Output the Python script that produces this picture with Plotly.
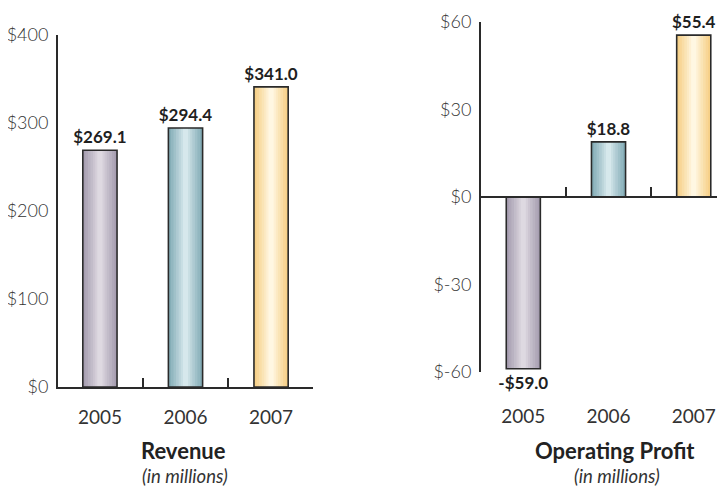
import plotly.graph_objects as go

years = ["2005", "2006", "2007"]
revenue = [269.1, 294.4, 341.0]
op_profit = [-59.0, 18.8, 55.4]

rev_ticks = [0, 100, 200, 300, 400]
rev_ticktext = ["$0", "$100", "$200", "$300", "$400"]
op_ticks = [-60, -30, 0, 30, 60]
op_ticktext = ["$-60", "$-30", "$0", "$30", "$60"]

# edge / highlight colours per year (cylinder shading)
edge_colors = ["#a79eb1", "#85adb7", "#f6d088"]
mid_colors = ["#ded9e1", "#d6e8ec", "#fff7e2"]

FONT = "Lato"
INK = "#2a2a2a"
W, H = 717, 481  # page body has an 8px margin


def px(x):
    return x / W


def py(y):
    return 1 - y / H


def fmt(v):
    return f"-${abs(v):.1f}" if v < 0 else f"${v:.1f}"


def mix(c1, c2, t):
    a = [int(c1[i:i + 2], 16) for i in (1, 3, 5)]
    b = [int(c2[i:i + 2], 16) for i in (1, 3, 5)]
    return "#" + "".join(f"{round(x + (y - x) * t):02x}" for x, y in zip(a, b))


def add_bars(fig, values, xa, ya):
    widths = [0.4, 0.34, 0.28, 0.22, 0.16, 0.11, 0.06]
    for i, w in enumerate(widths):
        t = i / (len(widths) - 1)
        fig.add_trace(go.Bar(
            x=years, y=values, width=w, xaxis=xa, yaxis=ya,
            marker=dict(color=[mix(e, m, t) for e, m in zip(edge_colors, mid_colors)], line_width=0),
            hoverinfo="skip", showlegend=False,
        ))
    # outline + value labels
    fig.add_trace(go.Bar(
        x=years, y=values, width=0.4, xaxis=xa, yaxis=ya,
        marker=dict(color="rgba(0,0,0,0)", line=dict(color=INK, width=1.6)),
        text=[fmt(v) for v in values], textposition="outside", cliponaxis=False,
        constraintext="none",
        textfont=dict(family=FONT, size=17, color="#1f1f1f", weight="bold"),
        showlegend=False,
    ))


fig = go.Figure()
add_bars(fig, revenue, "x", "y")
add_bars(fig, op_profit, "x2", "y2")

axis_font = dict(family=FONT, size=19, color="#333333")
ytick_font = dict(family=FONT, size=18, color="#333333", weight=300)

fig.update_layout(
    width=W, height=H,
    margin=dict(l=0, r=0, t=0, b=0, autoexpand=False),
    paper_bgcolor="white", plot_bgcolor="white",
    barmode="overlay",
    xaxis=dict(
        domain=[px(50), px(305)], range=[-0.49, 2.49], anchor="y", automargin=False,
        showline=True, linecolor=INK, linewidth=2,
        ticks="inside", tickson="boundaries", ticklen=9, tickwidth=2, tickcolor=INK,
        showgrid=False, zeroline=False, tickfont=axis_font, ticklabelstandoff=12,
    ),
    yaxis=dict(
        domain=[py(379), py(27)], range=[0, 400], anchor="x", automargin=False,
        tickvals=rev_ticks, ticktext=rev_ticktext,
        showline=True, linecolor=INK, linewidth=2, ticks="",
        showgrid=False, zeroline=False, tickfont=ytick_font, ticklabelstandoff=4,
    ),
    xaxis2=dict(
        domain=[px(473), 1.0], range=[-0.4965, 2.367], anchor="free",
        position=(py(363.7) + py(13.7)) / 2, automargin=False,
        showline=True, linecolor=INK, linewidth=2,
        ticks="inside", tickson="boundaries", ticklen=9, tickwidth=2, tickcolor=INK,
        showgrid=False, zeroline=False, tickfont=axis_font, ticklabelstandoff=202,
    ),
    yaxis2=dict(
        domain=[py(363.7), py(13.7)], range=[-60, 60], anchor="x2", automargin=False,
        tickvals=op_ticks, ticktext=op_ticktext,
        showline=True, linecolor=INK, linewidth=2, ticks="",
        showgrid=False, zeroline=False, tickfont=ytick_font, ticklabelstandoff=4,
    ),
)

titles = [
    ("Revenue", "(in millions)", 175),
    ("Operating Profit", "(in millions)", 607),
]
for main, sub, cx in titles:
    fig.add_annotation(text=f"<b>{main}</b>", x=px(cx), y=py(442), xref="paper", yref="paper",
                       xanchor="center", yanchor="middle", showarrow=False,
                       font=dict(family=FONT, size=22, color="#222222"))
    fig.add_annotation(text=f"<i>{sub}</i>", x=px(cx + 2), y=py(468), xref="paper", yref="paper",
                       xanchor="center", yanchor="middle", showarrow=False,
                       font=dict(family=FONT, size=18.5, color="#333333"))

fig.write_html("out.html")
